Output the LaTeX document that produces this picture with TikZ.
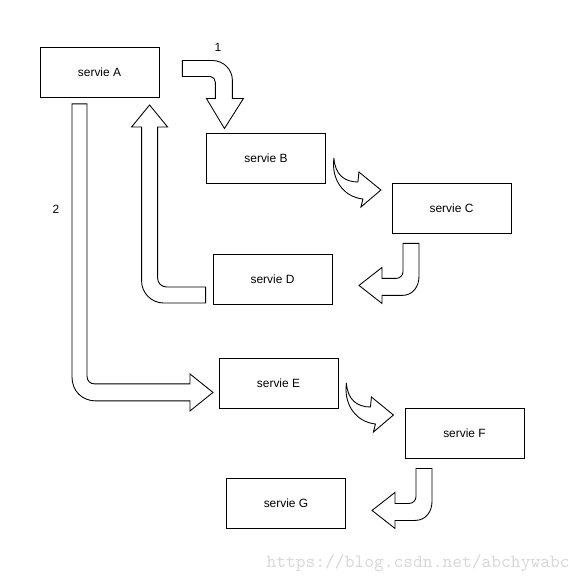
\documentclass[tikz,border=0pt]{standalone}
\usepackage{fontspec}
\setmainfont{Liberation Sans}
\usetikzlibrary{positioning,calc}

\begin{document}
\begin{tikzpicture}[
  x=0.02cm, y=-0.02cm,
  box/.style={draw=black, line width=0.5pt, fill=white, minimum width=2.38cm, minimum height=1cm, inner sep=0pt, font=\fontsize{6.8}{8}\selectfont},
  lbl/.style={font=\fontsize{6.8}{8}\selectfont, inner sep=1pt},
  blockarrow/.style={draw=black, line width=0.5pt, fill=white, line join=miter},
  wmark/.style={font=\ttfamily\fontsize{10.6}{12}\selectfont, text=black!15, inner sep=0pt}
]
\useasboundingbox[fill=white] (0,0) rectangle (583,584);

\node[box] (A) at (99.5, 72.5) {servie A};
\node[box] (B) at (266, 158) {servie B};
\node[box] (C) at (451.5, 208) {servie C};
\node[box] (D) at (272.5, 279) {servie D};
\node[box] (E) at (278.5, 383) {servie E};
\node[box] (F) at (464.5, 433) {servie F};
\node[box] (G) at (286, 503.5) {servie G};

% A -> B (1)
\draw[blockarrow, shift={(A.east)}] (23,-12) -- (53,-12) .. controls (64,-12) and (73,-3) .. (73,8)
  -- (73,26) -- (84,26) -- (65,56) -- (47,26) -- (56,26) -- (56,10)
  .. controls (56,7) and (54,4) .. (51,4) -- (23,4) -- cycle;
% B -> C
\draw[blockarrow, shift={(B.east)}] (8,0) .. controls (9,17) and (19,24) .. (32,24)
  -- (33,14) -- (55,32) -- (35,49) -- (37,41) .. controls (18,39) and (5,22) .. (8,0) -- cycle;
% C -> D
\draw[blockarrow, shift={(C.south)}] (-48.5,10) -- (-32.5,10) -- (-32.5,43)
  .. controls (-32.5,53) and (-38.5,62) .. (-49.5,62) -- (-69.5,62) -- (-69.5,70)
  -- (-92.5,52) -- (-69.5,34) -- (-69.5,45) -- (-55.5,45)
  .. controls (-51.5,45) and (-48.5,42) .. (-48.5,38) -- cycle;
% D -> A
\draw[blockarrow, shift={(D.west)}] (-7,8) -- (-46,8) .. controls (-51,8) and (-55,4) .. (-55,-1)
  -- (-55,-152) -- (-45,-152) -- (-63,-174) -- (-81,-152) -- (-71,-152) -- (-71,2)
  .. controls (-71,14) and (-61,24) .. (-49,24) -- (-7,24) -- cycle;
% A -> E (2)
\draw[blockarrow, shift={(A.south)}] (-27.5,6) -- (-12.5,6) -- (-12.5,278)
  .. controls (-12.5,283) and (-9.5,286) .. (-4.5,286) -- (90.5,286) -- (90.5,276)
  -- (113.5,294.5) -- (90.5,313) -- (90.5,303) -- (-3.5,303)
  .. controls (-17.5,303) and (-27.5,293) .. (-27.5,279) -- cycle;
% E -> F
\draw[blockarrow, shift={(E.east)}] (8,0) .. controls (9,17) and (19,24) .. (32,24)
  -- (33,14) -- (55,32) -- (35,49) -- (37,41) .. controls (18,39) and (5,22) .. (8,0) -- cycle;
% F -> G
\draw[blockarrow, shift={(F.south)}] (-48.5,10) -- (-32.5,10) -- (-32.5,43)
  .. controls (-32.5,53) and (-38.5,62) .. (-49.5,62) -- (-69.5,62) -- (-69.5,70)
  -- (-92.5,52) -- (-69.5,34) -- (-69.5,45) -- (-55.5,45)
  .. controls (-51.5,45) and (-48.5,42) .. (-48.5,38) -- cycle;

\node[lbl] (one) at (218, 47) {1};
\node[lbl] (two) at (56, 209) {2};
\node[wmark, anchor=east] (url) at (570, 563) {https://blog.csdn.net/abchywabc};

\end{tikzpicture}
\end{document}
